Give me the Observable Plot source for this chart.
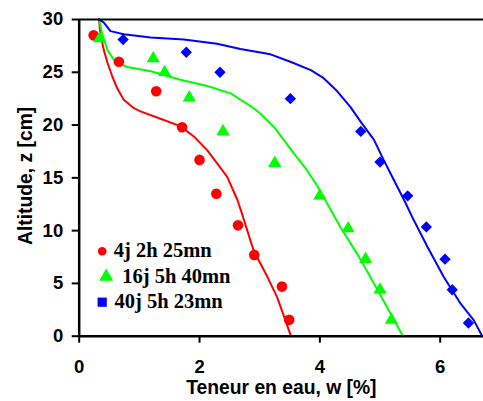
<!DOCTYPE html>
<html>
<head>
<meta charset="utf-8">
<script src="https://cdn.jsdelivr.net/npm/d3@7"></script>
<script src="https://cdn.jsdelivr.net/npm/@observablehq/plot@0.6"></script>
<style>
  html, body { margin: 0; padding: 0; background: #fff; }
  #chart svg text { font-weight: bold; }
  #chart svg g[aria-label$="tick label"], #chart svg g[aria-label$="tick label"] text {
    font-size: 18.5px; font-weight: bold; font-family: Arial, "Liberation Sans", sans-serif;
  }
  #chart svg g[aria-label="legend label"], #chart svg g[aria-label="legend label"] text {
    font-size: 20.5px; font-weight: bold; font-family: "Times New Roman", "Liberation Serif", serif;
  }
  #chart svg g[aria-label="axis title"], #chart svg g[aria-label="axis title"] text {
    font-size: 19.3px; font-weight: bold; font-family: Arial, "Liberation Sans", sans-serif;
  }
</style>
</head>
<body>
<div id="chart"></div>
<script>
// Series labels and colours
const seriesNames = ["4j 2h 25mn", "16j 5h 40mn", "40j 5h 23mn"];
const seriesColors = ["#ff0000", "#00ff00", "#0000ff"];
const seriesSymbols = ["circle", "triangle", "diamond2"];
const legendSymbols = ["circle", "triangle", "square"];

// Axis ticks and titles
const xTicks = [0, 2, 4, 6];
const yTicks = [0, 5, 10, 15, 20, 25, 30];
const xTitle = "Teneur en eau, w [%]";
const yTitle = "Altitude, z [cm]";

// Measured points (w [%], z [cm])
const pts1W = [0.24, 0.66, 1.28, 1.71, 2.00, 2.28, 2.64, 2.91, 3.37, 3.49];
const pts1Z = [28.5, 26.0, 23.2, 19.8, 16.7, 13.5, 10.5, 7.7, 4.7, 1.55];
const pts2W = [0.34, 1.23, 1.42, 1.83, 2.39, 3.25, 4.00, 4.47, 4.76, 5.00, 5.19];
const pts2Z = [28.2, 26.3, 25.0, 22.6, 19.4, 16.4, 13.3, 10.2, 7.3, 4.4, 1.55];
const pts3W = [0.73, 1.78, 2.34, 3.51, 4.68, 5.00, 5.46, 5.77, 6.08, 6.20, 6.47];
const pts3Z = [28.1, 26.9, 25.0, 22.5, 19.4, 16.5, 13.3, 10.35, 7.3, 4.4, 1.25];

// Simulated curves (w [%], z [cm])
const line1W = [0.33, 0.35, 0.41, 0.47, 0.55, 0.63, 0.74, 0.91, 1.02, 1.35, 1.68, 1.91, 2.13, 2.29, 2.46, 2.63, 2.70, 2.90, 3.13, 3.29, 3.52];
const line1Z = [30, 28.7, 27.1, 25.9, 24.6, 23.5, 22.4, 21.6, 21.3, 20.6, 19.9, 18.9, 17.6, 16.4, 15.1, 12.9, 11.7, 8.1, 5.6, 3.7, 0];
const line2W = [0.33, 0.38, 0.47, 0.60, 0.80, 1.19, 1.68, 2.13, 2.52, 2.68, 2.85, 3.01, 3.24, 3.40, 3.57, 3.79, 3.96, 4.09, 4.34, 4.62, 4.90, 5.18, 5.38];
const line2Z = [30, 28.7, 27.1, 26.0, 25.5, 25.1, 24.3, 23.7, 23.0, 22.4, 21.8, 21.1, 19.8, 18.6, 17.3, 15.7, 14.2, 12.9, 10.35, 7.8, 5.0, 2.1, 0];
const line3W = [0.33, 0.41, 0.52, 0.74, 1.19, 1.74, 2.29, 2.68, 3.18, 3.51, 3.85, 4.05, 4.29, 4.51, 4.68, 4.90, 5.06, 5.23, 5.40, 5.56, 5.79, 6.06, 6.34, 6.56, 6.70];
const line3Z = [30, 29.7, 28.9, 28.6, 28.3, 28.1, 27.7, 27.2, 26.7, 26.0, 25.2, 24.5, 23.2, 21.7, 20.3, 18.6, 16.7, 14.8, 12.9, 11.0, 8.45, 5.6, 3.08, 1.5, 0];

const zip = (w, z) => w.map((v, i) => ({w: v, z: z[i]}));
const ptsSets = [zip(pts1W, pts1Z), zip(pts2W, pts2Z), zip(pts3W, pts3Z)];
const lineSets = [zip(line1W, line1Z), zip(line2W, line2Z), zip(line3W, line3Z)];
const pointR = [5.3, 4.9, 5.1];
const legendR = [4.3, 5.2, 5.2];
const legendSymDx = [23, 27, 23];
const legendTextDx = [34.6, 43, 35.3];
const legendDy = [-85.5, -60, -34.5];

const sansFont = "Arial, 'Liberation Sans', sans-serif";
const serifFont = "'Times New Roman', 'Liberation Serif', serif";

const marks = [];
lineSets.forEach((d, i) => {
  marks.push(Plot.line(d, {x: "w", y: "z", stroke: seriesColors[i], strokeWidth: 2, curve: "linear"}));
});
ptsSets.forEach((d, i) => {
  marks.push(Plot.dot(d, {x: "w", y: "z", fill: seriesColors[i], stroke: "none", r: pointR[i], symbol: seriesSymbols[i]}));
});
marks.push(Plot.ruleY([30], {stroke: "#000", strokeWidth: 2}));
marks.push(Plot.ruleY([0], {stroke: "#000", strokeWidth: 2.5}));
marks.push(Plot.ruleX([0], {stroke: "#000", strokeWidth: 2.5}));
marks.push(Plot.axisX({ticks: xTicks, tickFormat: d3.format("d"), tickSize: 7, tickPadding: 17, strokeWidth: 2, fontSize: 18.5, fontWeight: "bold", fontFamily: sansFont, label: null}));
marks.push(Plot.axisY({ticks: yTicks, tickFormat: d3.format("d"), tickSize: 7, tickPadding: 9, strokeWidth: 2, fontSize: 18.5, fontWeight: "bold", fontFamily: sansFont, label: null}));
marks.push(Plot.text([xTitle], {text: d => d, ariaLabel: "axis title", frameAnchor: "bottom", dy: 52, lineAnchor: "middle", fontSize: 19.3, fontWeight: "bold", fontFamily: sansFont, fill: "#000"}));
marks.push(Plot.text([yTitle], {text: d => d, ariaLabel: "axis title", frameAnchor: "left", dx: -53.5, dy: -2, rotate: -90, textAnchor: "middle", lineAnchor: "middle", fontSize: 19.3, fontWeight: "bold", fontFamily: sansFont, fill: "#000"}));
seriesNames.forEach((name, i) => {
  marks.push(Plot.dot([name], {frameAnchor: "bottom-left", dx: legendSymDx[i], dy: legendDy[i] + 0.5, r: legendR[i], symbol: legendSymbols[i], fill: seriesColors[i], stroke: "none"}));
  marks.push(Plot.text([name], {text: d => d, ariaLabel: "legend label", frameAnchor: "bottom-left", dx: legendTextDx[i], dy: legendDy[i], textAnchor: "start", lineAnchor: "middle", fontSize: 20.5, fontWeight: "bold", fontFamily: serifFont, fill: "#000"}));
});

const chart = Plot.plot({
  width: 483,
  height: 401,
  marginLeft: 78.7,
  marginRight: 0,
  marginTop: 19,
  marginBottom: 65.3,
  x: {domain: [0, 6.72]},
  y: {domain: [0, 30]},
  style: {fontFamily: sansFont, fontSize: "18px", fontWeight: "bold", color: "#000", background: "#fff", overflow: "visible"},
  marks
});
document.getElementById("chart").appendChild(chart);
</script>
</body>
</html>
